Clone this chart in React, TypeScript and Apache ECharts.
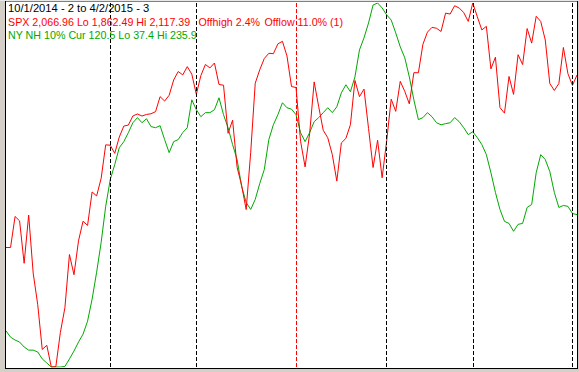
import React, { useEffect, useRef } from "react";
import * as echarts from "echarts";

// Trading days per month (10/1/2014 .. 4/2/2015)
const octDays = [1, 2, 3, 6, 7, 8, 9, 10, 13, 14, 15, 16, 17, 20, 21, 22, 23, 24, 27, 28, 29, 30, 31];
const novDays = [3, 4, 5, 6, 7, 10, 11, 12, 13, 14, 17, 18, 19, 20, 21, 24, 25, 26, 28];
const decDays = [1, 2, 3, 4, 5, 8, 9, 10, 11, 12, 15, 16, 17, 18, 19, 22, 23, 24, 26, 29, 30, 31];
const janDays = [2, 5, 6, 7, 8, 9, 12, 13, 14, 15, 16, 20, 21, 22, 23, 26, 27, 28, 29, 30];
const febDays = [2, 3, 4, 5, 6, 9, 10, 11, 12, 13, 17, 18, 19, 20, 23, 24, 25, 26, 27];
const marDays = [2, 3, 4, 5, 6, 9, 10, 11, 12, 13, 16, 17, 18, 19, 20, 23, 24, 25, 26, 27, 30, 31];
const aprDays = [1, 2];

const dates: string[] = [
  ...octDays.map((d) => `10/${d}/2014`),
  ...novDays.map((d) => `11/${d}/2014`),
  ...decDays.map((d) => `12/${d}/2014`),
  ...janDays.map((d) => `1/${d}/2015`),
  ...febDays.map((d) => `2/${d}/2015`),
  ...marDays.map((d) => `3/${d}/2015`),
  ...aprDays.map((d) => `4/${d}/2015`),
];

const spxValues = [
  1946.16, 1946.17, 1967.9, 1964.82, 1935.1, 1968.89, 1928.21, 1906.13, 1874.74, 1877.7,
  1862.49, 1862.76, 1886.76, 1904.01, 1941.28, 1927.11, 1950.82, 1964.58, 1961.63, 1985.05,
  1982.3, 1994.65, 2018.05, 2017.81, 2012.1, 2023.57, 2031.21, 2031.92, 2038.26, 2039.68,
  2038.25, 2039.33, 2039.82, 2041.32, 2051.8, 2048.72, 2052.75, 2063.5, 2069.41, 2067.03,
  2072.83, 2067.56, 2053.44, 2066.55, 2074.33, 2071.92, 2075.37, 2060.31, 2059.82, 2026.14,
  2035.33, 2002.33, 1989.63, 1972.74, 2012.89, 2061.23, 2070.65, 2078.54, 2082.17, 2081.88,
  2088.77, 2090.57, 2080.35, 2058.9, 2058.2, 2020.58, 2002.61, 2025.9, 2062.14, 2044.81,
  2028.26, 2023.03, 2011.27, 1992.67, 2019.42, 2022.55, 2032.12, 2063.15, 2051.82, 2057.09,
  2029.55, 2002.16, 2021.25, 1994.99, 2020.85, 2050.03, 2041.51, 2062.52, 2055.47, 2046.74,
  2068.59, 2068.53, 2088.48, 2096.99, 2100.34, 2099.68, 2097.45, 2110.3, 2109.66, 2115.48,
  2113.86, 2110.74, 2104.5, 2117.39, 2107.78, 2098.53, 2101.04, 2071.26, 2079.43, 2044.16,
  2040.24, 2065.95, 2053.4, 2081.19, 2074.28, 2099.5, 2089.27, 2108.1, 2104.42, 2091.5,
  2061.05, 2056.15, 2061.02, 2086.24, 2067.89, 2059.69, 2066.96,
];

const nhValues = [
  57.1, 53.7, 52.1, 51.0, 48.3, 46.6, 46.6, 45.6, 41.8, 39.6,
  37.4, 37.4, 37.4, 37.7, 41.8, 46.1, 51.0, 55.3, 62.4, 74.4,
  89.1, 105.4, 125.0, 139.6, 147.8, 157.0, 160.3, 165.2, 170.6, 173.4,
  170.6, 172.8, 168.5, 167.9, 169.0, 161.4, 154.3, 160.3, 161.4, 165.2,
  167.9, 183.1, 177.7, 173.9, 176.1, 176.1, 177.7, 184.2, 175.0, 167.9,
  158.7, 150.5, 135.8, 127.1, 123.3, 128.8, 137.5, 145.1, 161.4, 169.5,
  175.0, 181.5, 178.8, 178.0, 175.0, 165.2, 160.3, 165.2, 171.2, 173.4,
  176.1, 178.8, 176.1, 179.3, 186.9, 191.3, 187.5, 195.6, 210.3, 216.9,
  225.0, 234.8, 235.9, 233.2, 229.4, 226.6, 219.6, 212.0, 206.0, 195.6,
  183.1, 172.3, 173.4, 176.1, 173.9, 170.6, 169.5, 170.1, 170.6, 173.4,
  171.2, 167.9, 164.1, 165.7, 162.5, 158.7, 153.2, 143.4, 132.6, 123.3,
  116.8, 115.7, 111.4, 115.2, 115.7, 124.4, 126.0, 143.4, 153.2, 150.5,
  144.0, 132.6, 124.4, 125.5, 125.0, 121.1, 120.5,
];

const spxRange = [1862.49, 2117.39];
const nhRange = [37.4, 235.9];

const monthLines = ["11/3/2014", "12/1/2014", "2/2/2015", "3/2/2015", "4/1/2015"];
const yearLines = ["1/2/2015"];

const titleText = "10/1/2014 - 2 to 4/2/2015 - 3";
const spxTexts = ["SPX 2,066.96 Lo 1,862.49 Hi 2,117.39", "Offhigh 2.4%", "Offlow 11.0% (1)"];
const nhText = "NY NH 10% Cur 120.5 Lo 37.4 Hi 235.9";

const RED = "#ff0000";
const GREEN = "#00a800";
const FONT = '"Liberation Sans", Arial, sans-serif';

export default function App() {
  const ref = useRef<HTMLDivElement>(null);

  useEffect(() => {
    const chart = echarts.init(ref.current!, null, { renderer: "svg" });
    const txt = (text: string, x: number, y: number, fill: string, size: number) => ({
      type: "text",
      x,
      y,
      z: 20,
      silent: true,
      style: {
        text,
        fill,
        font: `${size}px ${FONT}`,
        textVerticalAlign: "middle",
        verticalAlign: "middle",
      },
    });
    const ln = (x1: number, y1: number, x2: number, y2: number, color: string) => ({
      type: "line",
      z: 30,
      silent: true,
      shape: { x1, y1, x2, y2 },
      style: { stroke: color, lineWidth: 1 },
    });

    chart.setOption({
      animation: false,
      backgroundColor: "#d4d0c8",
      grid: { left: 6, right: 2, top: 3, bottom: 5, containLabel: false },
      xAxis: { type: "category", data: dates, boundaryGap: false, show: false },
      yAxis: [
        { type: "value", min: spxRange[0], max: spxRange[1], show: false },
        { type: "value", min: nhRange[0], max: nhRange[1], show: false },
      ],
      graphic: [
        {
          type: "rect",
          z: 0,
          silent: true,
          shape: { x: 6, y: 2, width: 571, height: 366 },
          style: { fill: "#ffffff" },
        },
        ln(0, 0.5, 579, 0.5, "#e8e8e8"),
        ln(5, 1.5, 578, 1.5, "#808080"),
        ln(5.5, 1, 5.5, 369, "#000000"),
        ln(577.5, 1, 577.5, 369, "#000000"),
        ln(5, 368.5, 578, 368.5, "#000000"),
        txt(titleText, 8, 7.9, "#000000", 11.2),
        txt(spxTexts[0], 8, 21.5, RED, 10.7),
        txt(spxTexts[1], 198.5, 21.5, RED, 10.7),
        txt(spxTexts[2], 264.5, 21.5, RED, 10.7),
        txt(nhText, 8, 34.5, GREEN, 10.7),
      ],
      series: [
        {
          name: "NY NH 10%",
          type: "line",
          yAxisIndex: 1,
          data: nhValues,
          symbol: "none",
          showSymbol: false,
          lineStyle: { color: GREEN, width: 1 },
          z: 3,
          markLine: {
            silent: true,
            symbol: "none",
            label: { show: false },
            data: [
              ...monthLines.map((d) => ({ xAxis: d, lineStyle: { color: "#000000", type: [4, 2], width: 1 } })),
              ...yearLines.map((d) => ({ xAxis: d, lineStyle: { color: RED, type: [4, 2], width: 1 } })),
            ],
          },
        },
        {
          name: "SPX",
          type: "line",
          yAxisIndex: 0,
          data: spxValues,
          symbol: "none",
          showSymbol: false,
          lineStyle: { color: RED, width: 1 },
          z: 4,
        },
      ],
    });
    return () => chart.dispose();
  }, []);

  return (
    <div
      ref={ref}
      style={{ position: "fixed", left: 0, top: 0, width: 579, height: 372 }}
    />
  );
}
